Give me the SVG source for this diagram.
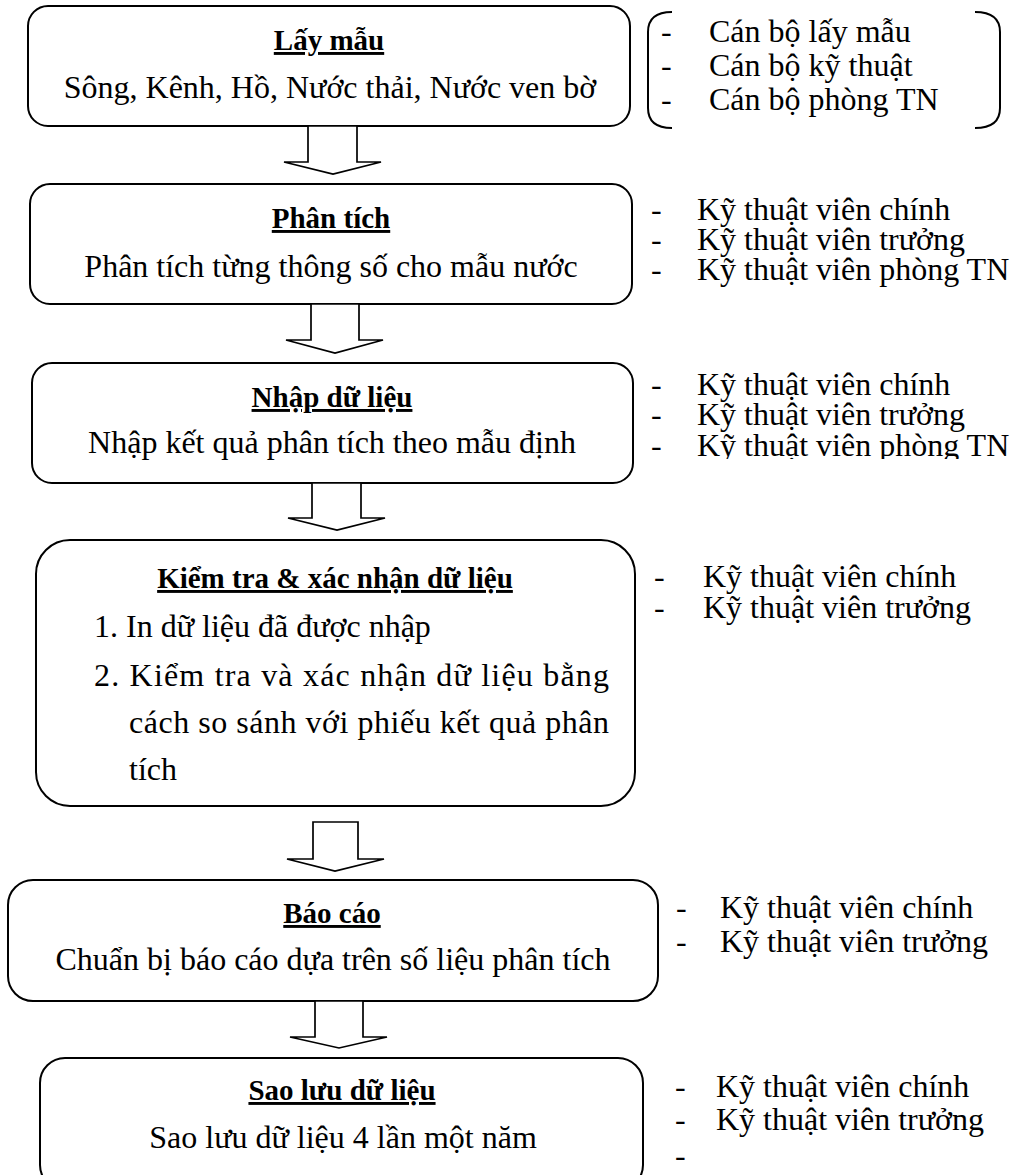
<svg xmlns="http://www.w3.org/2000/svg" width="1011" height="1175" viewBox="0 0 1011 1175">
  <defs>
    <style>
      text { font-family: "Liberation Serif", "Times New Roman", serif; fill: #000; }
      .box { fill: #fff; stroke: #000; stroke-width: 2; }
      .title { font-size: 29px; font-weight: bold; text-anchor: middle; text-decoration: underline; }
      .body { font-size: 32px; text-anchor: middle; }
      .item { font-size: 32px; }
      .staff { font-size: 32px; }
      .bracket { fill: none; stroke: #000; stroke-width: 2; }
      .arrow { fill: #fff; stroke: #000; stroke-width: 1.7; stroke-linejoin: miter; }
    </style>
    <clipPath id="clip-entry-staff">
      <rect x="640" y="360" width="371" height="99"/>
    </clipPath>
  </defs>
  <rect width="1011" height="1175" fill="#fff"/>

  <!-- step 1: sampling -->
  <g id="node-sampling">
    <rect class="box" x="28" y="6" width="602" height="120" rx="20"/>
    <text class="title" x="329" y="50">Lấy mẫu</text>
    <text class="body" x="330" y="98">Sông, Kênh, Hồ, Nước thải, Nước ven bờ</text>
  </g>
  <g id="staff-sampling">
    <path class="bracket" d="M672 12 Q648 12 648 32 L648 108 Q648 128 672 128"/>
    <path class="bracket" d="M975 12 Q1000 12 1000 32 L1000 108 Q1000 128 975 128"/>
    <text class="staff" x="661" y="42">-</text>
    <text class="staff" x="661" y="76">-</text>
    <text class="staff" x="661" y="110">-</text>
    <text class="staff" x="709" y="42">Cán bộ lấy mẫu</text>
    <text class="staff" x="709" y="76">Cán bộ kỹ thuật</text>
    <text class="staff" x="709" y="110">Cán bộ phòng TN</text>
  </g>

  <!-- step 2: analysis -->
  <g id="node-analysis">
    <rect class="box" x="30" y="184" width="602" height="120" rx="20"/>
    <text class="title" x="331" y="228">Phân tích</text>
    <text class="body" x="331" y="277">Phân tích từng thông số cho mẫu nước</text>
  </g>
  <g id="staff-analysis">
    <text class="staff" x="651" y="220">-</text>
    <text class="staff" x="651" y="250">-</text>
    <text class="staff" x="651" y="280">-</text>
    <text class="staff" x="697" y="220">Kỹ thuật viên chính</text>
    <text class="staff" x="697" y="250">Kỹ thuật viên trưởng</text>
    <text class="staff" x="697" y="280">Kỹ thuật viên phòng TN</text>
  </g>

  <!-- step 3: data entry -->
  <g id="node-entry">
    <rect class="box" x="32" y="363" width="601" height="120" rx="20"/>
    <text class="title" x="332" y="407">Nhập dữ liệu</text>
    <text class="body" x="332" y="453">Nhập kết quả phân tích theo mẫu định</text>
  </g>
  <g id="staff-entry" clip-path="url(#clip-entry-staff)">
    <text class="staff" x="651" y="395">-</text>
    <text class="staff" x="651" y="425">-</text>
    <text class="staff" x="651" y="456">-</text>
    <text class="staff" x="697" y="395">Kỹ thuật viên chính</text>
    <text class="staff" x="697" y="425">Kỹ thuật viên trưởng</text>
    <text class="staff" x="697" y="456">Kỹ thuật viên phòng TN</text>
  </g>

  <!-- step 4: check and confirm -->
  <g id="node-verify">
    <rect class="box" x="36" y="540" width="599" height="266" rx="34"/>
    <text class="title" x="335" y="588">Kiểm tra &amp; xác nhận dữ liệu</text>
    <text class="item" x="94" y="637">1. In dữ liệu đã được nhập</text>
    <text class="item" x="94" y="686" textLength="515" lengthAdjust="spacing">2. Kiểm tra và xác nhận dữ liệu bằng</text>
    <text class="item" x="129" y="733" textLength="480" lengthAdjust="spacing">cách so sánh với phiếu kết quả phân</text>
    <text class="item" x="129" y="780">tích</text>
  </g>
  <g id="staff-verify">
    <text class="staff" x="654" y="587">-</text>
    <text class="staff" x="654" y="618">-</text>
    <text class="staff" x="703" y="587">Kỹ thuật viên chính</text>
    <text class="staff" x="703" y="618">Kỹ thuật viên trưởng</text>
  </g>

  <!-- step 5: report -->
  <g id="node-report">
    <rect class="box" x="8" y="880" width="650" height="121" rx="25"/>
    <text class="title" x="332" y="923">Báo cáo</text>
    <text class="body" x="333" y="970">Chuẩn bị báo cáo dựa trên số liệu phân tích</text>
  </g>
  <g id="staff-report">
    <text class="staff" x="676" y="918">-</text>
    <text class="staff" x="676" y="952">-</text>
    <text class="staff" x="720" y="918">Kỹ thuật viên chính</text>
    <text class="staff" x="720" y="952">Kỹ thuật viên trưởng</text>
  </g>

  <!-- step 6: backup -->
  <g id="node-backup">
    <rect class="box" x="40" y="1058" width="603" height="132" rx="25"/>
    <text class="title" x="342" y="1100">Sao lưu dữ liệu</text>
    <text class="body" x="343" y="1148">Sao lưu dữ liệu 4 lần một năm</text>
  </g>
  <g id="staff-backup">
    <text class="staff" x="675" y="1097">-</text>
    <text class="staff" x="675" y="1130">-</text>
    <text class="staff" x="675" y="1166">-</text>
    <text class="staff" x="716" y="1097">Kỹ thuật viên chính</text>
    <text class="staff" x="716" y="1130">Kỹ thuật viên trưởng</text>
  </g>

  <!-- block arrows between steps -->
  <g id="connectors">
    <polygon class="arrow" points="308,126 357,126 357,162 381,162 333,174 284,162 308,162"/>
    <polygon class="arrow" points="311,304 359,304 359,340 383,340 335,353 286,340 311,340"/>
    <polygon class="arrow" points="312,483 361,483 361,518 385,518 337,530 288,518 312,518"/>
    <polygon class="arrow" points="313,822 358,822 358,859 384,859 335,871 287,859 313,859"/>
    <polygon class="arrow" points="315,1001 363,1001 363,1037 387,1037 339,1048 290,1037 315,1037"/>
  </g>
</svg>
